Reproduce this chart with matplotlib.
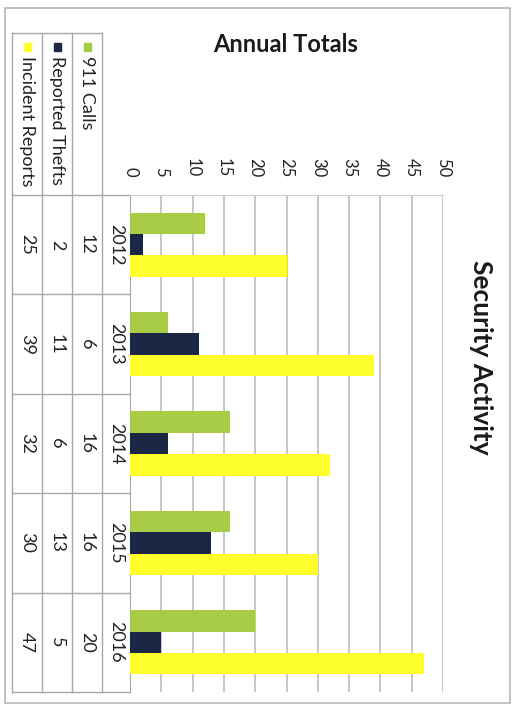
import matplotlib.pyplot as plt
import numpy as np
from matplotlib.patches import Rectangle

# data (chart is printed sideways on the page)
years = ['2012', '2013', '2014', '2015', '2016']
series = ['911 Calls', 'Reported Thefts', 'Incident Reports']
calls = [12, 6, 16, 16, 20]
thefts = [2, 11, 6, 13, 5]
incidents = [25, 39, 32, 30, 47]
colors = ['#a8cc45', '#1b2745', '#ffff2e']

plt.rcParams['font.family'] = ['Lato', 'DejaVu Sans']

W, H = 518, 710
def fx(x): return x / W
def fy(y): return 1 - y / H

fig = plt.figure(figsize=(W / 100, H / 100), dpi=100)

# layout in pixels
px0, px1 = 130, 443      # value axis 0..50
py0, py1 = 195, 692      # plot top / bottom
cols = [12, 42, 72, 102, 130]
ttop = 33

# overlay for table, legend, titles
ov = fig.add_axes([0, 0, 1, 1], zorder=0)
ov.set_xlim(0, W)
ov.set_ylim(H, 0)
ov.axis('off')

ax = fig.add_axes([fx(px0), fy(py1), fx(px1) - fx(px0), fy(py0) - fy(py1)], zorder=1)
ax.patch.set_alpha(0)
y = np.arange(len(years))
bw = 0.215
for i, (vals, c) in enumerate(zip([calls, thefts, incidents], colors)):
    ax.barh(y + (i - 1) * bw, vals, height=bw, color=c, zorder=3)
ax.set_ylim(len(years) - 0.5, -0.5)
ax.set_xlim(0, 50)
ax.set_xticks(range(0, 51, 5))
ax.xaxis.tick_top()
ax.tick_params(axis='x', length=0, labelrotation=-90, labelsize=12, pad=13, colors='#222222')
ax.set_yticks([])
ax.grid(axis='x', color='#bdbdbd', lw=1.2, zorder=0)
for s in ['right', 'bottom']:
    ax.spines[s].set_visible(False)
ax.spines['top'].set_color('#d0d0d0')
ax.spines['left'].set_color('#a8a8a8')

# data table
lc = '#a8a8a8'
rowh = (py1 - py0) / len(years)
for k in range(len(years) + 1):
    ov.plot([cols[0], cols[-1]], [py0 + k * rowh] * 2, color=lc, lw=1)
ov.plot([cols[0], cols[3]], [ttop, ttop], color=lc, lw=1)
for xc in cols[:4]:
    ov.plot([xc, xc], [ttop, py1], color=lc, lw=1)

table_vals = [incidents, thefts, calls]
table_names = series[::-1]
table_cols = colors[::-1]
for j, (vals, name, c) in enumerate(zip(table_vals, table_names, table_cols)):
    xc = (cols[j] + cols[j + 1]) / 2
    ov.add_patch(Rectangle((xc - 3.5, 43), 7, 8, color=c))
    ov.text(xc, 56, name, rotation=-90, ha='center', va='top', fontsize=13, color='#222222')
    for k, v in enumerate(vals):
        ov.text(xc, py0 + (k + 0.5) * rowh, str(v), rotation=-90,
                ha='center', va='center', fontsize=13, color='#222222')
for k, yr in enumerate(years):
    ov.text((cols[3] + cols[4]) / 2, py0 + (k + 0.5) * rowh, yr, rotation=-90,
            ha='center', va='center', fontsize=13, color='#222222')

ov.text(286, 45, 'Annual Totals', ha='center', va='center', fontsize=17,
        fontweight='bold', color='#1a1a1a')
ov.text(481, 357, 'Security Activity', rotation=-90, ha='center', va='center',
        fontsize=19, fontweight='bold', color='#1a1a1a')

ov.add_patch(Rectangle((5, 8), 505, 695, fill=False, edgecolor='#b8b8b8', lw=1.2))

fig.savefig('out.png', dpi=100)
